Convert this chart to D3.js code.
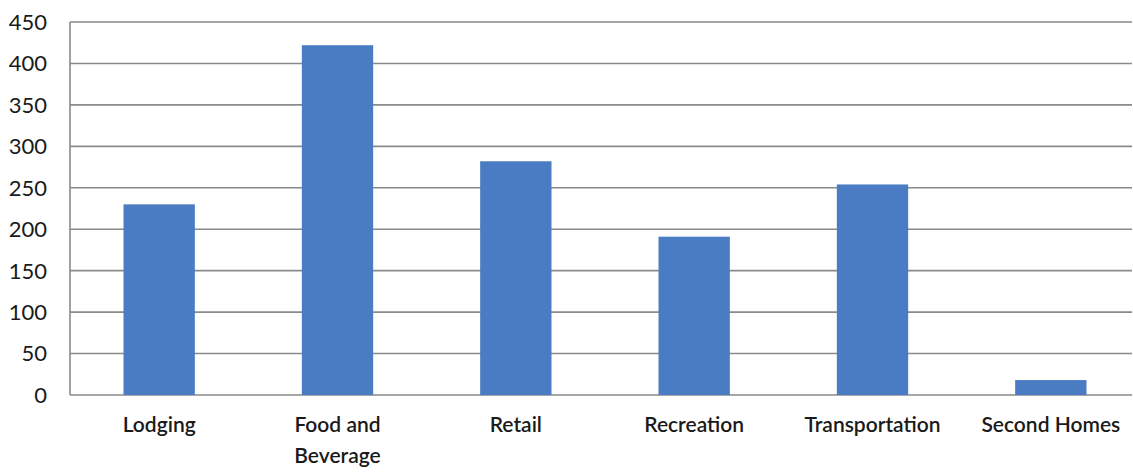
<!DOCTYPE html>
<html>
<head>
<meta charset="utf-8">
<script src="https://cdn.jsdelivr.net/npm/d3@7"></script>
<style>
  body { margin: 0; background: #fff; }
  text { font-family: Lato, "Noto Sans", sans-serif; fill: #1a1a1a; }
</style>
</head>
<body>
<div id="chart"></div>
<script>
// categories and values
var categories = ["Lodging", "Food and Beverage", "Retail", "Recreation", "Transportation", "Second Homes"];
var labelLines = [["Lodging"], ["Food and", "Beverage"], ["Retail"], ["Recreation"], ["Transportation"], ["Second Homes"]];
var values = [230, 422, 282, 191, 254, 18];
var yTicks = [0, 50, 100, 150, 200, 250, 300, 350, 400, 450];

var margin = {top: 22, right: 1, bottom: 79, left: 70},
    width = 1133 - margin.left - margin.right,
    height = 474 - margin.top - margin.bottom;

var svg = d3.select("#chart")
  .append("svg")
    .attr("width", 1133)
    .attr("height", 474)
  .append("g")
    .attr("transform", "translate(" + margin.left + "," + margin.top + ")");

var x = d3.scaleBand()
  .domain(categories)
  .range([0, 1070])
  .paddingInner(0.6)
  .paddingOuter(0.3);

var y = d3.scaleLinear()
  .domain([0, 450])
  .range([height, 0]);

// gridlines
svg.append("g")
  .selectAll("line")
  .data(yTicks)
  .enter()
  .append("line")
    .attr("x1", 0)
    .attr("x2", width)
    .attr("y1", function(d) { return y(d); })
    .attr("y2", function(d) { return y(d); })
    .attr("stroke", "#8a8a8a")
    .attr("stroke-width", 1.6);

// left axis line
svg.append("line")
  .attr("x1", 0).attr("x2", 0)
  .attr("y1", y(450)).attr("y2", y(0))
  .attr("stroke", "#8a8a8a")
  .attr("stroke-width", 1.6);

// y tick labels
svg.append("g")
  .selectAll("text")
  .data(yTicks)
  .enter()
  .append("text")
    .attr("x", -23)
    .attr("y", function(d) { return y(d); })
    .attr("dy", "0.36em")
    .attr("text-anchor", "end")
    .style("font-size", "22px")
    .text(function(d) { return d; });

// bars
svg.selectAll("rect")
  .data(values)
  .enter()
  .append("rect")
    .attr("x", function(d, i) { return x(categories[i]); })
    .attr("y", function(d) { return y(d); })
    .attr("width", x.bandwidth())
    .attr("height", function(d) { return height - y(d); })
    .attr("fill", "#4a7cc3");

// x labels
var xl = svg.append("g")
  .selectAll("text")
  .data(categories)
  .enter()
  .append("text")
    .attr("x", function(d) { return x(d) + x.bandwidth() / 2; })
    .attr("y", height + 37)
    .attr("text-anchor", "middle")
    .style("font-size", "21px")
    .style("font-weight", "600");

xl.selectAll("tspan")
  .data(function(d, i) { return labelLines[i]; })
  .enter()
  .append("tspan")
    .attr("x", function() { return d3.select(this.parentNode).attr("x"); })
    .attr("dy", function(d, i) { return i === 0 ? 0 : 31; })
    .text(function(d) { return d; });
</script>
</body>
</html>
